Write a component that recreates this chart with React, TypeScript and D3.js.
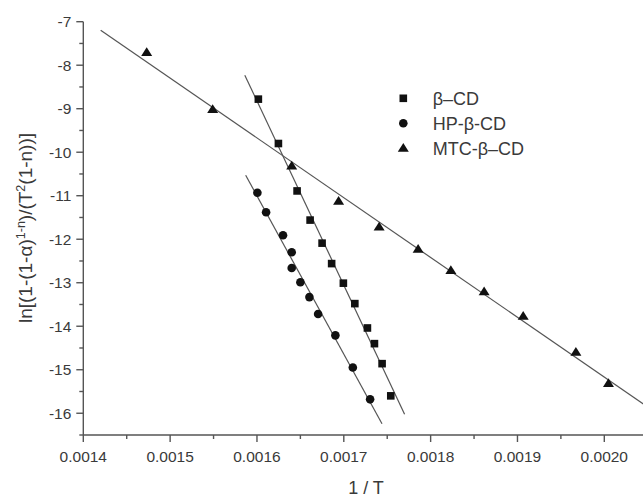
import React from 'react';
import * as d3 from 'd3';

// values
const betaX = [0.0016016, 0.0016247, 0.0016462, 0.0016612, 0.001675, 0.001686, 0.0016995, 0.0017127, 0.0017272, 0.0017353, 0.0017441, 0.0017541];
const betaY = [-8.78, -9.8, -10.89, -11.56, -12.09, -12.56, -13.01, -13.48, -14.04, -14.4, -14.86, -15.6];

const hpX = [0.0016005, 0.0016105, 0.00163, 0.00164, 0.00164, 0.00165, 0.0016604, 0.0016704, 0.0016903, 0.0017104, 0.0017303];
const hpY = [-10.93, -11.38, -11.91, -12.3, -12.66, -12.99, -13.33, -13.72, -14.21, -14.95, -15.68];

const mtcX = [0.001473, 0.001549, 0.00164, 0.001694, 0.0017407, 0.0017856, 0.0018233, 0.0018616, 0.0019066, 0.0019673, 0.0020048];
const mtcY = [-7.71, -9.02, -10.32, -11.13, -11.72, -12.23, -12.72, -13.21, -13.77, -14.6, -15.32];

// x-range over which each fitted line is drawn
const betaFit = [0.001586, 0.00177];
const hpFit = [0.001587, 0.001744];
const mtcFit = [0.00142, 0.00207];

const xTicks = [0.0014, 0.0015, 0.0016, 0.0017, 0.0018, 0.0019, 0.002];
const yTicks = [-16, -15, -14, -13, -12, -11, -10, -9, -8, -7];

const legendLabels = ['β–CD', 'HP-β-CD', 'MTC-β–CD'];

const width = 643;
const height = 497;

const fit = (xs: number[], ys: number[]) => {
  const mx = d3.mean(xs)!;
  const my = d3.mean(ys)!;
  const sxy = d3.sum(xs, (x, i) => (x - mx) * (ys[i] - my));
  const sxx = d3.sum(xs, (x) => (x - mx) * (x - mx));
  const b = sxy / sxx;
  return (x: number) => my + b * (x - mx);
};

const App = () => {
  const x = d3.scaleLinear().domain([0.0014, 0.0020]).range([83.3, 604.3]);
  const y = d3.scaleLinear().domain([-16.5, -7]).range([435, 21.7]);
  const x0 = x(0.0014);
  const y0 = y(-16.5);
  const xEnd = x(0.00206);

  const minorX = d3.range(0, 13).map((i) => 0.0014 + i * 0.00005).filter((v, i) => i % 2 === 1);
  const minorY = d3.range(-16.5, -7, 1);

  const series = [
    { xs: betaX, ys: betaY, range: betaFit, shape: 'square' },
    { xs: hpX, ys: hpY, range: hpFit, shape: 'circle' },
    { xs: mtcX, ys: mtcY, range: mtcFit, shape: 'triangle' },
  ];

  const marker = (shape: string, cx: number, cy: number, key: string | number) => {
    if (shape === 'square') return <rect key={key} x={cx - 3.8} y={cy - 3.8} width={7.6} height={7.6} fill="#111" />;
    if (shape === 'circle') return <circle key={key} cx={cx} cy={cy} r={4.3} fill="#111" />;
    return <path key={key} d={`M${cx},${cy - 5.3}L${cx + 5.5},${cy + 3.4}L${cx - 5.5},${cy + 3.4}Z`} fill="#111" />;
  };

  const line = d3.line<number[]>().x((d) => x(d[0])).y((d) => y(d[1]));

  return (
    <svg width={width} height={height} style={{ position: 'absolute', left: 0, top: 0, background: '#fff' }}
      fontFamily="'Liberation Sans', Arial, sans-serif">
      <defs>
        <clipPath id="plot">
          <rect x={x0} y={0} width={width - x0} height={y0} />
        </clipPath>
      </defs>

      {/* fitted lines */}
      <g clipPath="url(#plot)" stroke="#555" strokeWidth={1.2} fill="none">
        {series.map((s, i) => {
          const f = fit(s.xs, s.ys);
          return <path key={i} d={line(s.range.map((v) => [v, f(v)]))!} />;
        })}
      </g>

      {/* points */}
      <g>
        {series.map((s, i) => (
          <g key={i}>{s.xs.map((v, j) => marker(s.shape, x(v), y(s.ys[j]), j))}</g>
        ))}
      </g>

      {/* axes */}
      <g stroke="#555" strokeWidth={1.4}>
        <line x1={x0} x2={xEnd} y1={y0} y2={y0} />
        <line x1={x0} x2={x0} y1={y(-7)} y2={y0} />
        {xTicks.map((t) => <line key={t} x1={x(t)} x2={x(t)} y1={y0} y2={y0 + 7} />)}
        {minorX.map((t) => <line key={t} x1={x(t)} x2={x(t)} y1={y0} y2={y0 + 4} />)}
        {yTicks.map((t) => <line key={t} x1={x0 - 7} x2={x0} y1={y(t)} y2={y(t)} />)}
        {minorY.map((t) => <line key={t} x1={x0 - 4} x2={x0} y1={y(t)} y2={y(t)} />)}
      </g>

      <g fill="#3a3a3a" fontSize={15.5}>
        {xTicks.map((t) => (
          <text key={t} x={x(t)} y={y0 + 27} textAnchor="middle">{d3.format('.4f')(t)}</text>
        ))}
        {yTicks.map((t) => (
          <text key={t} x={x0 - 12} y={y(t) + 5.4} textAnchor="end">{t}</text>
        ))}
      </g>

      <text x={366} y={494} textAnchor="middle" fontSize={18} fill="#3a3a3a">1 / T</text>
      <text transform={`translate(32,228) rotate(-90)`} textAnchor="middle" fontSize={19} fill="#3a3a3a">
        ln[(1-(1-α)<tspan dy={-7} fontSize={12.5}>1-n</tspan><tspan dy={7}>)/(T</tspan>
        <tspan dy={-7} fontSize={12.5}>2</tspan><tspan dy={7}>(1-n))]</tspan>
      </text>

      {/* legend */}
      <g>
        {series.map((s, i) => (
          <g key={i}>
            {marker(s.shape, 403.3, 98.3 + i * 25, 'm')}
            <text x={432.7} y={98.3 + i * 25 + 6.3} fontSize={18} fill="#3a3a3a">{legendLabels[i]}</text>
          </g>
        ))}
      </g>
    </svg>
  );
};

export default App;
